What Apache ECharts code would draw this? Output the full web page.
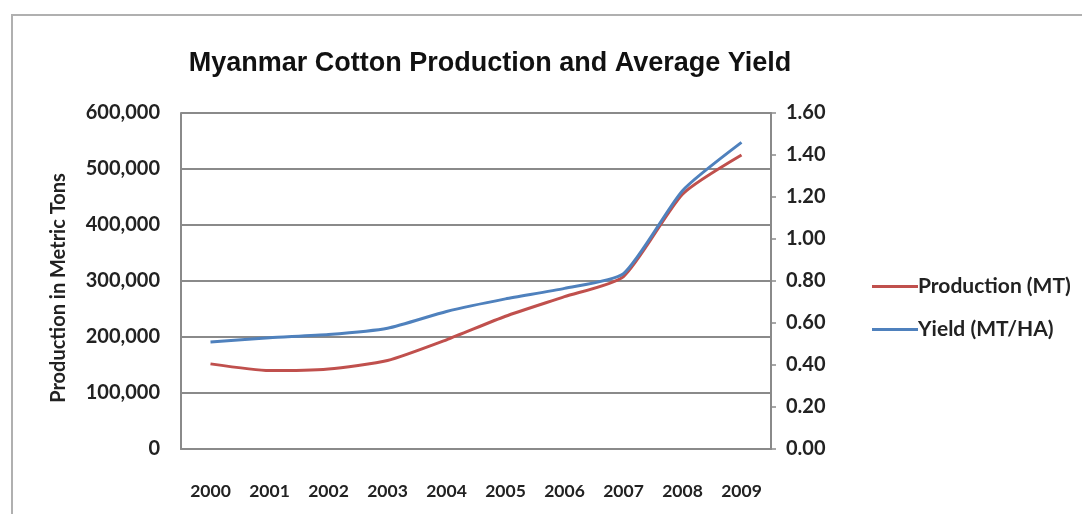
<!DOCTYPE html>
<html>
<head>
<meta charset="utf-8">
<script src="https://cdn.jsdelivr.net/npm/echarts@6/dist/echarts.min.js"></script>
<style>
html,body{margin:0;padding:0;background:#fff;}
#chart{width:1082px;height:514px;}
</style>
</head>
<body>
<div id="chart"></div>
<script>
const years = ['2000','2001','2002','2003','2004','2005','2006','2007','2008','2009'];
const production = [152000, 140000, 143000, 158000, 195000, 237000, 272000, 308000, 455000, 525000];
const yieldVals = [0.51, 0.53, 0.545, 0.575, 0.655, 0.715, 0.765, 0.835, 1.23, 1.46];
const titleText = 'Myanmar Cotton Production and Average Yield';
const leftAxisName = 'Production in Metric Tons';
const seriesNames = ['Production (MT)', 'Yield (MT/HA)'];

const chart = echarts.init(document.getElementById('chart'));
const font = (size) => ({fontFamily: 'Lato', fontWeight: 'bold', fontSize: size, color: '#222'});
chart.setOption({
  animation: false,
  backgroundColor: '#fff',
  graphic: [{
    type: 'rect', shape: {x: 12, y: 15, width: 1200, height: 700},
    style: {fill: 'none', stroke: '#b0b0b0', lineWidth: 2}, z: -1
  }],
  title: {
    text: titleText, left: 485, top: 45, textAlign: 'center',
    textStyle: {fontFamily: 'Liberation Sans', fontWeight: 'bold', fontSize: 27, color: '#111'}
  },
  legend: {
    orient: 'vertical', left: 867, top: 271, itemGap: 22,
    itemWidth: 46, itemHeight: 3, icon: 'rect',
    textStyle: Object.assign(font(21), {padding: [0,0,0,-5]}),
    data: seriesNames
  },
  grid: {left: 181, right: 311, top: 113, bottom: 65},
  xAxis: {
    type: 'category', data: years, boundaryGap: true,
    axisLine: {lineStyle: {color: '#8a8a8a', width: 2}},
    axisTick: {show: false},
    axisLabel: Object.assign({margin: 33, interval: 0}, font(17.5))
  },
  yAxis: [{
    type: 'value', min: 0, max: 600000, interval: 100000,
    name: leftAxisName, nameLocation: 'middle', nameGap: 112, nameRotate: 90,
    nameTextStyle: Object.assign(font(20), {padding: [0, 14, 0, 0]}),
    axisLine: {show: true, lineStyle: {color: '#8a8a8a', width: 2}},
    axisTick: {show: false},
    splitLine: {lineStyle: {color: '#8a8a8a', width: 2}},
    axisLabel: Object.assign({margin: 21, formatter: v => v.toLocaleString('en-US')}, font(20))
  }, {
    type: 'value', min: 0, max: 1.6, interval: 0.2, position: 'right',
    axisLine: {show: true, lineStyle: {color: '#8a8a8a', width: 2}},
    axisTick: {show: true, length: 5, lineStyle: {color: '#8a8a8a', width: 1.5}},
    splitLine: {show: false},
    axisLabel: Object.assign({margin: 15, formatter: v => v.toFixed(2)}, font(20))
  }],
  series: [{
    name: seriesNames[0], type: 'line', data: production, yAxisIndex: 0,
    smooth: 0.2, symbol: 'none',
    lineStyle: {color: '#C0504D', width: 3}, itemStyle: {color: '#C0504D'}
  }, {
    name: seriesNames[1], type: 'line', data: yieldVals, yAxisIndex: 1,
    smooth: 0.2, symbol: 'none',
    lineStyle: {color: '#4F81BD', width: 3}, itemStyle: {color: '#4F81BD'}
  }]
});
</script>
</body>
</html>
